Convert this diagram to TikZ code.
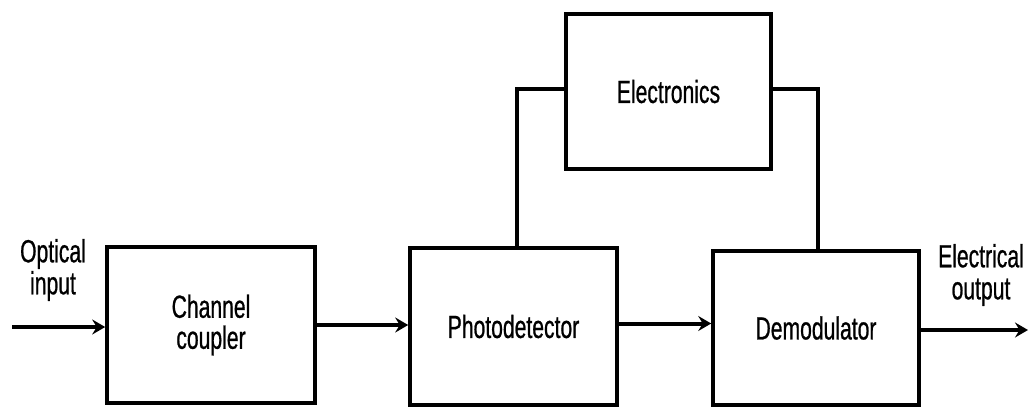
\documentclass[tikz,border=0pt]{standalone}
\usepackage{fontspec}
\setmainfont{Liberation Sans}[FakeStretch=0.66,FakeBold=0.7]
\usetikzlibrary{arrows.meta}
\begin{document}
\begin{tikzpicture}[x=1pt,y=-1pt,
  blk/.style={draw, line width=3.6pt, minimum width=#1, minimum height=155pt, inner sep=0pt, align=center,
    font=\fontsize{32}{31}\selectfont},
  lbl/.style={align=center, font=\fontsize{32}{32}\selectfont, inner sep=0pt},
  wire/.style={line width=3.6pt},
  arr/.style={line width=4pt, -{Stealth[length=13pt,width=15pt,inset=4.5pt]}}]
\useasboundingbox (0,0) rectangle (1033,410);
\node[blk=208pt, minimum height=156pt] (cc) at (211,325) {Channel\\coupler};
\node[blk=207pt, minimum height=157pt] (pd) at (513.5,326.5) {Photodetector};
\node[blk=206pt, minimum height=154pt] (dm) at (816,328) {Demodulator};
\node[blk=205pt] (el) at (668.5,91.5) {Electronics};
\node[lbl] (oin) at (53,270) {Optical\\input};
\node[lbl] (eout) at (981,275) {Electrical\\output};
\coordinate (in) at (12,327);
\coordinate (out) at (1028,330);
\draw[arr] (in) -- (in -| cc.west);
\draw[arr] (cc.east) -- (cc.east -| pd.west);
\draw[arr] ([yshift=3pt]pd.east) -- ([yshift=3pt]pd.east -| dm.west);
\draw[arr] (dm.east |- out) -- (out);
\draw[wire] ([xshift=3.5pt]pd.north) |- ([yshift=2.5pt]el.west);
\draw[wire] ([yshift=2.5pt]el.east) -| ([xshift=2pt]dm.north);
\end{tikzpicture}
\end{document}
